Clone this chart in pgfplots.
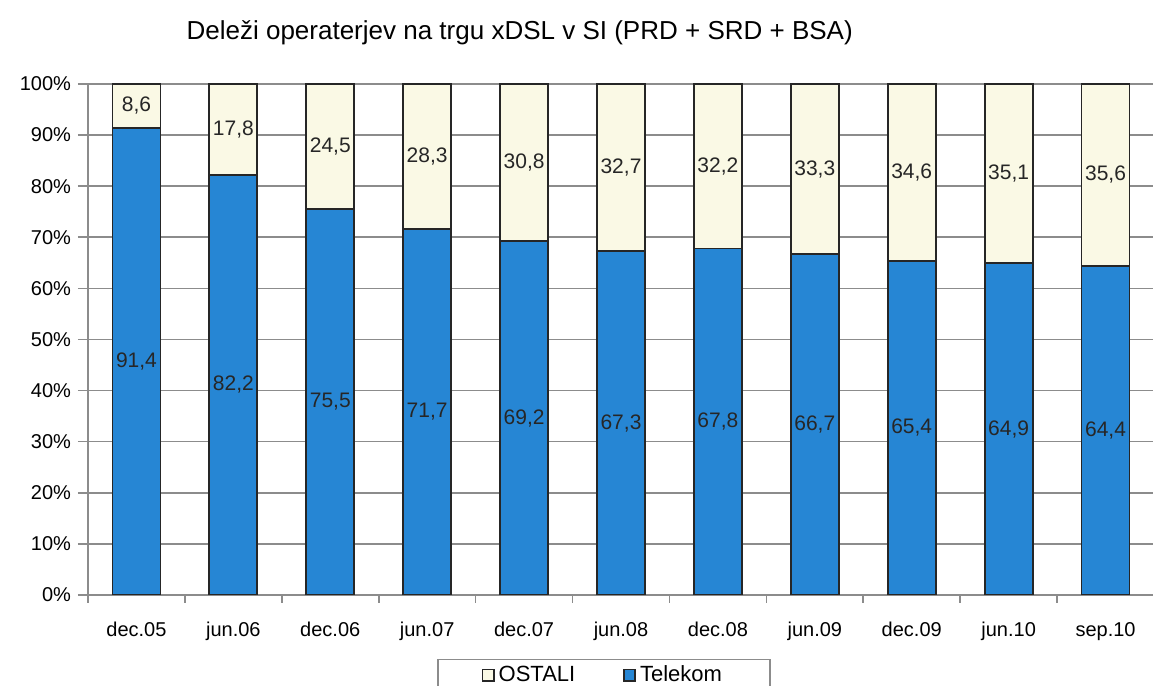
\documentclass[border=0pt]{standalone}
\usepackage{pgfplots}
\pgfplotsset{compat=1.18}
\usepackage{fontspec}
\setmainfont{Liberation Sans}

\definecolor{telekom}{RGB}{38,134,212}
\definecolor{ostali}{RGB}{250,249,229}
\definecolor{gridgray}{RGB}{140,140,140}

\begin{document}
\begin{tikzpicture}
\useasboundingbox (0,0) rectangle (576.5pt,343pt);
\begin{axis}[
    at={(44pt,45.5pt)}, anchor=south west,
    scale only axis,
    width=533pt, height=255.5pt,
    ybar stacked,
    bar width=24pt,
    xmin=-0.5, xmax=10.5,
    ymin=0, ymax=100,
    xtick={0,...,10},
    xticklabels={dec.05,jun.06,dec.06,jun.07,dec.07,jun.08,dec.08,jun.09,dec.09,jun.10,sep.10},
    minor xtick={-0.5,0.5,...,10.5},
    major x tick style={draw=none},
    minor x tick style={gridgray, thick},
    xticklabel style={yshift=-5pt},
    ytick={0,10,...,100},
    yticklabel={\pgfmathprintnumber{\tick}\%},
    /pgf/number format/assume math mode=true,
    tick align=outside,
    major tick length=5pt,
    minor tick length=4pt,
    axis x line*=bottom, axis y line*=left,
    axis line style={gridgray, thick},
    ymajorgrids,
    grid style={gridgray, thick},
    y tick style={gridgray, thick},
    tick label style={font=\fontsize{10}{12}\selectfont},
    title={Deleži operaterjev na trgu xDSL v SI (PRD + SRD + BSA)},
    title style={at={(0.405,1.077)}, anchor=center, font=\fontsize{13}{15}\selectfont},
    visualization depends on={rawy \as \rawy},
    nodes near coords={\pgfmathprintnumber[fixed,fixed zerofill,precision=1,use comma]{\rawy}},
    every node near coord/.append style={anchor=center, font=\fontsize{10.5}{12}\selectfont, text=black!85},
    reverse legend,
    legend columns=2,
    legend style={at={(0.484,-0.125)}, anchor=north, draw=gridgray, thick,
        font=\fontsize{11}{13}\selectfont, inner ysep=1pt, inner xsep=22pt,
        /tikz/every even column/.append style={column sep=22pt}},
    legend image code/.code={\draw[#1, line width=0.8pt] (0pt,-2.8pt) rectangle (5.6pt,2.8pt);},
]
\addplot[fill=telekom, draw=black!85, line width=0.9pt] coordinates {
    (0,91.4) (1,82.2) (2,75.5) (3,71.7) (4,69.2) (5,67.3) (6,67.8) (7,66.7) (8,65.4) (9,64.9) (10,64.4)
};
\addlegendentry{Telekom}
\addplot[fill=ostali, draw=black!85, line width=0.9pt] coordinates {
    (0,8.6) (1,17.8) (2,24.5) (3,28.3) (4,30.8) (5,32.7) (6,32.2) (7,33.3) (8,34.6) (9,35.1) (10,35.6)
};
\addlegendentry{OSTALI}
\end{axis}
\end{tikzpicture}
\end{document}
